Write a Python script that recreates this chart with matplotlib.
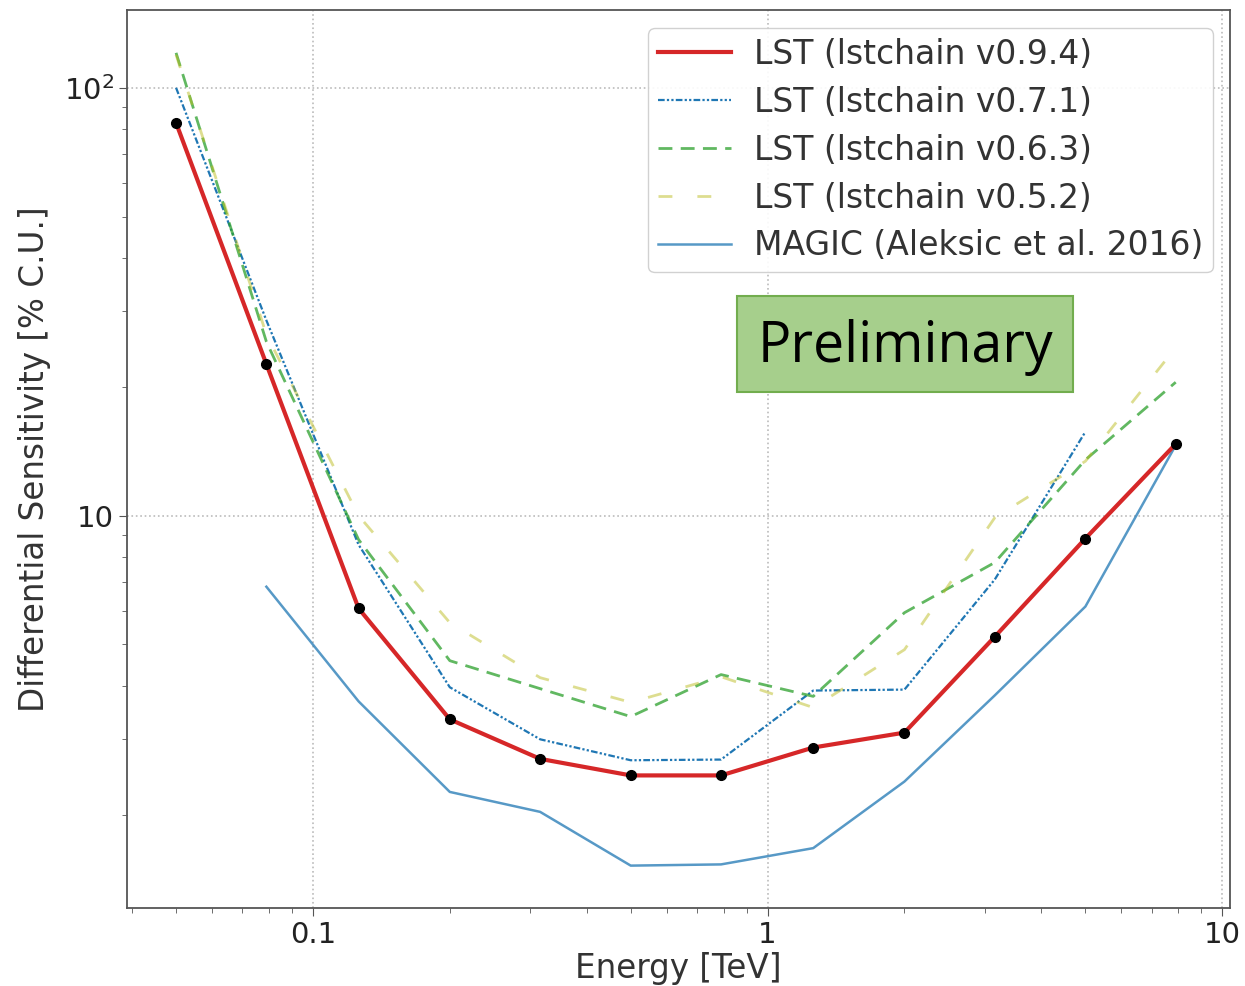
import numpy as np
import matplotlib
matplotlib.use("Agg")
import matplotlib.pyplot as plt
from matplotlib.ticker import FixedLocator, FixedFormatter, NullFormatter, LogLocator
from matplotlib.patches import Rectangle

# Energy bin centres [TeV]
energy = [0.05, 0.079, 0.126, 0.2, 0.316, 0.5, 0.79, 1.26, 2.0, 3.16, 5.0, 7.9]

# Differential sensitivity [% C.U.]
lst_v094 = [82.8, 22.6, 6.07, 3.34, 2.70, 2.47, 2.47, 2.87, 3.11, 5.21, 8.84, 14.7]
lst_v071 = [100, 28.6, 8.55, 3.97, 3.0, 2.68, 2.69, 3.90, 3.92, 7.09, 15.7]
lst_v063 = [120.7, 25.5, 8.79, 4.58, 3.94, 3.39, 4.25, 3.78, 5.93, 7.77, 13.5, 20.5]
lst_v052 = [119.5, 26.5, 10.0, 5.62, 4.18, 3.66, 4.20, 3.56, 4.86, 9.89, 13.4, 24.7]
magic = [6.82, 3.68, 2.26, 2.03, 1.52, 1.53, 1.67, 2.39, 3.80, 6.13, 14.6]

labels = ["LST (lstchain v0.9.4)", "LST (lstchain v0.7.1)", "LST (lstchain v0.6.3)",
          "LST (lstchain v0.5.2)", "MAGIC (Aleksic et al. 2016)"]

fig = plt.figure(figsize=(12.45, 9.86), dpi=100)
ax = fig.add_axes([127 / 1245, 1 - 908 / 986, (1230 - 127) / 1245, (908 - 10) / 986])

ax.plot(energy, lst_v094, color="tab:red", lw=3, label=labels[0], zorder=5)
ax.plot(energy, lst_v094, "o", color="black", ms=7, zorder=6)
ax.plot(energy[:11], lst_v071, color="tab:blue", lw=1.6, dashes=(3, 1, 1, 1, 1, 1), label=labels[1])
ax.plot(energy, lst_v063, color="tab:green", lw=2, alpha=0.75, dashes=(5, 3), label=labels[2])
ax.plot(energy, lst_v052, color="tab:olive", lw=2, alpha=0.5, dashes=(5, 9), label=labels[3])
ax.plot(energy[1:], magic, color="tab:blue", lw=1.8, alpha=0.75, label=labels[4])

ax.set_xscale("log")
ax.set_yscale("log")
ax.set_xlim(0.039, 10.4)
ax.set_ylim(1.21, 152)

ax.xaxis.set_major_locator(FixedLocator([0.1, 1, 10]))
ax.xaxis.set_major_formatter(FixedFormatter(["0.1", "1", "10"]))
ax.xaxis.set_minor_locator(LogLocator(base=10, subs=np.arange(2, 10)))
ax.xaxis.set_minor_formatter(NullFormatter())
ax.yaxis.set_major_locator(FixedLocator([10, 100]))
ax.yaxis.set_major_formatter(FixedFormatter(["10", "$10^{2}$"]))
ax.yaxis.set_minor_locator(LogLocator(base=10, subs=np.arange(2, 10)))
ax.yaxis.set_minor_formatter(NullFormatter())

ax.tick_params(which="major", labelsize=21, length=6, color="#555555", labelcolor="#222222")
ax.tick_params(which="minor", length=3.5, color="#555555")
ax.grid(True, which="major", ls=":", color="#bbbbbb", lw=1.2)
for s in ax.spines.values():
    s.set_color("#555555")
    s.set_linewidth(1.3)

ax.set_xlabel("Energy [TeV]", fontsize=23.5, color="#333333", labelpad=2)
ax.set_ylabel("Differential Sensitivity [% C.U.]", fontsize=23.5, color="#333333", labelpad=9)

leg = ax.legend(loc="upper right", bbox_to_anchor=((1213 - 127) / 1103, (908 - 28) / 898),
                borderaxespad=0, fontsize=23.8, handlelength=2.2, handletextpad=0.7,
                labelspacing=0.45, borderpad=0.3, framealpha=0.9, edgecolor="#cccccc")
for t in leg.get_texts():
    t.set_color("#333333")

# "Preliminary" stamp
fig.patches.append(Rectangle((737 / 1245, 1 - 392 / 986), 336 / 1245, 96 / 986,
                             transform=fig.transFigure, facecolor="#a6cf8c",
                             edgecolor="#72ad4e", lw=1.5, zorder=10))
fig.text(905 / 1245, 1 - 347 / 986, "Preliminary", fontsize=40, family="Open Sans",
         ha="center", va="center", color="black", zorder=11)

fig.savefig("out.png", dpi=100)
